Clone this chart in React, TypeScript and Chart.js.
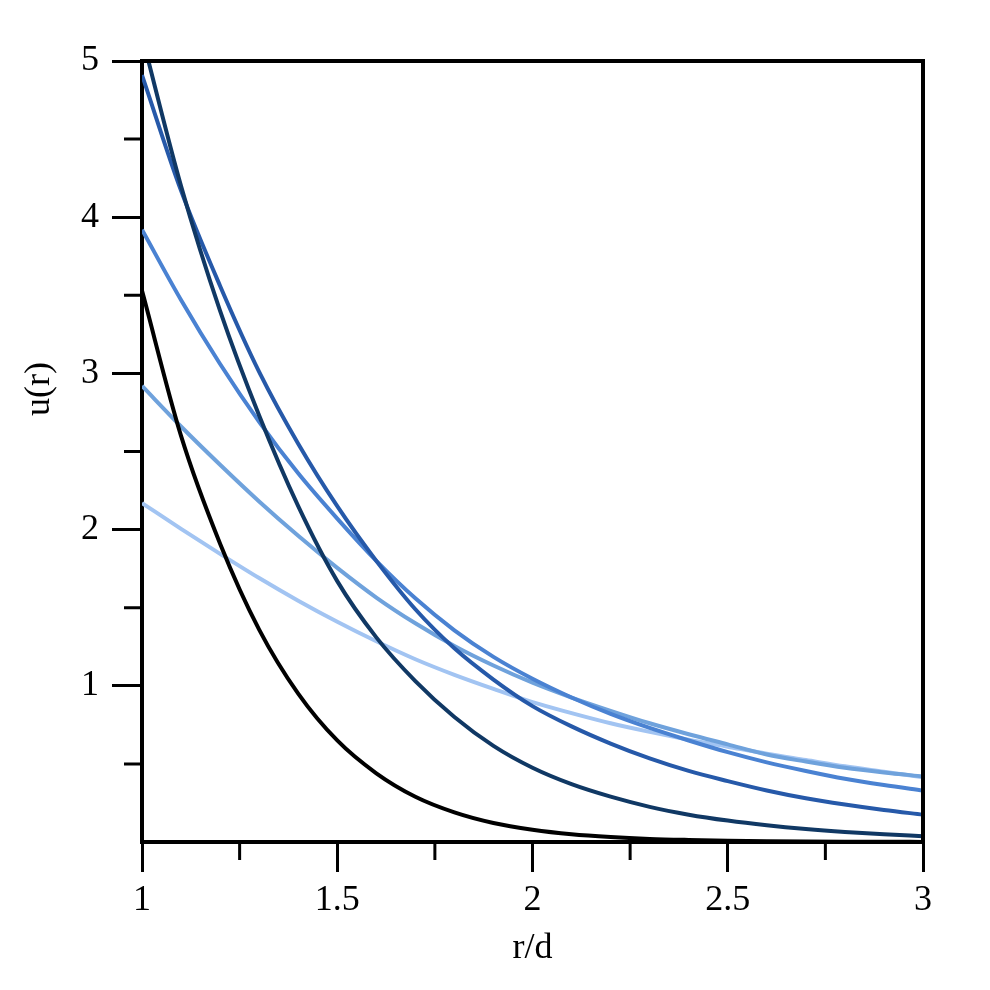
import React, { useEffect, useRef } from "react";
import { Chart, registerables } from "chart.js";

Chart.register(...registerables);

// r/d sample positions
const rValues = [1.0, 1.1, 1.2, 1.3, 1.4, 1.5, 1.6, 1.7, 1.8, 1.9, 2.0, 2.1, 2.2, 2.3, 2.4, 2.5, 2.6, 2.7, 2.8, 2.9, 3.0];

// u(r) series
const blackSeries = [3.53, 2.6, 1.91, 1.36, 0.95, 0.65, 0.44, 0.29, 0.19, 0.122, 0.079, 0.05, 0.032, 0.02, 0.013, 0.008, 0.005, 0.003, 0.002, 0.0012, 0.0008];
const navySeries = [5.16, 4.2, 3.4, 2.73, 2.15, 1.67, 1.31, 1.03, 0.8, 0.615, 0.475, 0.37, 0.29, 0.225, 0.175, 0.137, 0.107, 0.083, 0.064, 0.049, 0.037];
const blueSeries = [4.91, 4.17, 3.56, 3.01, 2.55, 2.15, 1.8, 1.49, 1.24, 1.04, 0.87, 0.74, 0.63, 0.535, 0.455, 0.39, 0.33, 0.28, 0.24, 0.205, 0.175];
const mediumSeries = [3.92, 3.47, 3.06, 2.69, 2.36, 2.07, 1.8, 1.56, 1.355, 1.185, 1.045, 0.925, 0.82, 0.73, 0.65, 0.575, 0.51, 0.455, 0.405, 0.365, 0.33];
const lighterSeries = [2.92, 2.66, 2.415, 2.18, 1.96, 1.755, 1.565, 1.4, 1.255, 1.13, 1.02, 0.925, 0.84, 0.76, 0.69, 0.625, 0.56, 0.515, 0.475, 0.445, 0.42];
const lightestSeries = [2.17, 2.005, 1.845, 1.69, 1.545, 1.41, 1.285, 1.17, 1.07, 0.98, 0.895, 0.825, 0.76, 0.705, 0.655, 0.61, 0.565, 0.525, 0.485, 0.45, 0.415];

// axis ticks
const xMajorStep = 0.5;
const xMinorTicks = [1.25, 1.75, 2.25, 2.75];
const yMajorStep = 1;
const yMinorTicks = [0.5, 1.5, 2.5, 3.5, 4.5];

const xTitle = "r/d";
const yTitle = "u(r)";

const FONT = '"Liberation Serif"';
const FONT_SIZE = 36;

const seriesDefs = [
  { name: "black", values: blackSeries, color: "#000000" },
  { name: "navy", values: navySeries, color: "#103864" },
  { name: "blue", values: blueSeries, color: "#2659a9" },
  { name: "medium", values: mediumSeries, color: "#4a82d2" },
  { name: "lighter", values: lighterSeries, color: "#6fa2dc" },
  { name: "lightest", values: lightestSeries, color: "#a2c4f2" },
];

const framePlugin = {
  id: "frameAndExtras",
  afterDraw(chart: any) {
    const { ctx, chartArea: a, scales } = chart;
    ctx.save();
    ctx.strokeStyle = "#000";
    ctx.lineWidth = 4;
    ctx.lineCap = "square";
    ctx.beginPath();
    ctx.moveTo(a.left, a.top);
    ctx.lineTo(a.right, a.top);
    ctx.lineTo(a.right, a.bottom);
    ctx.stroke();

    ctx.lineCap = "butt";
    ctx.lineWidth = 3;
    ctx.beginPath();
    xMinorTicks.forEach((v) => {
      const px = scales.x.getPixelForValue(v);
      ctx.moveTo(px, a.bottom);
      ctx.lineTo(px, a.bottom + 18);
    });
    yMinorTicks.forEach((v) => {
      const py = scales.y.getPixelForValue(v);
      ctx.moveTo(a.left, py);
      ctx.lineTo(a.left - 18, py);
    });
    ctx.stroke();

    ctx.fillStyle = "#000";
    ctx.font = `${FONT_SIZE}px ${FONT}`;
    ctx.textAlign = "center";
    ctx.textBaseline = "alphabetic";
    ctx.translate(49, a.top + (a.bottom - a.top) * 0.42);
    ctx.rotate(-Math.PI / 2);
    ctx.fillText(yTitle, 0, 0);
    ctx.restore();
  },
};

export default function App() {
  const canvasRef = useRef<HTMLCanvasElement | null>(null);

  useEffect(() => {
    if (!canvasRef.current) return;
    const datasets = seriesDefs.map((s) => ({
      label: s.name,
      data: rValues.map((r, i) => ({ x: r, y: s.values[i] })),
      borderColor: s.color,
      backgroundColor: s.color,
      borderWidth: 4,
      pointRadius: 0,
      fill: false,
      cubicInterpolationMode: "monotone" as const,
    }));

    const chart = new Chart(canvasRef.current, {
      type: "line",
      data: { datasets },
      plugins: [framePlugin],
      options: {
        responsive: false,
        animation: false,
        layout: { padding: { top: 61, right: 67, left: 0, bottom: 0 } },
        plugins: { legend: { display: false }, tooltip: { enabled: false } },
        scales: {
          x: {
            type: "linear",
            min: 1,
            max: 3,
            ticks: {
              stepSize: xMajorStep,
              padding: 7,
              color: "#000",
              font: { family: FONT, size: FONT_SIZE },
              maxRotation: 0,
              autoSkip: false,
              callback: (v: any) => String(Math.round(Number(v) * 100) / 100),
            },
            grid: {
              drawOnChartArea: false,
              drawTicks: true,
              tickLength: 30,
              tickWidth: 3,
              tickColor: "#000",
            },
            border: { display: true, color: "#000", width: 4 },
            title: {
              display: true,
              text: xTitle,
              color: "#000",
              font: { family: FONT, size: FONT_SIZE },
              padding: { top: 0, bottom: 20 },
            },
            afterFit: (s: any) => {
              s.height = 148;
              s.paddingLeft = 0;
              s.paddingRight = 0;
            },
          },
          y: {
            type: "linear",
            min: 0,
            max: 5,
            ticks: {
              stepSize: yMajorStep,
              padding: 13,
              color: "#000",
              font: { family: FONT, size: FONT_SIZE },
              callback: (v: any) => (Number(v) === 0 ? "" : String(v)),
            },
            grid: {
              drawOnChartArea: false,
              drawTicks: true,
              tickLength: 30,
              tickWidth: 3,
              tickColor: (c: any) => (c.tick && c.tick.value === 0 ? "rgba(0,0,0,0)" : "#000"),
            },
            border: { display: true, color: "#000", width: 4 },
            afterFit: (s: any) => {
              s.width = 142;
              s.paddingTop = 0;
              s.paddingBottom = 0;
            },
          },
        },
      },
    });
    return () => chart.destroy();
  }, []);

  return (
    <div style={{ position: "fixed", left: 0, top: 0, width: 990, height: 990, background: "#fff" }}>
      <canvas ref={canvasRef} width={990} height={990} style={{ width: 990, height: 990 }} />
    </div>
  );
}
